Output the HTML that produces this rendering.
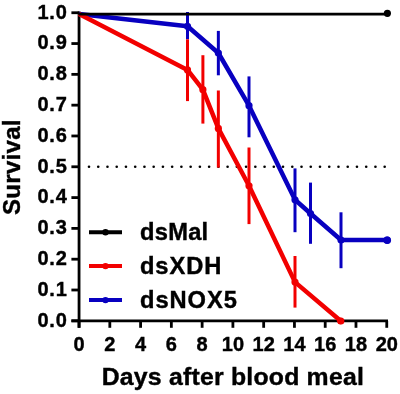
<!DOCTYPE html>
<html><head><meta charset="utf-8"><style>
html,body{margin:0;padding:0;background:#fff;}
svg{display:block}
text{font-family:"Liberation Sans",Arial,sans-serif;font-weight:bold;fill:#000;stroke:#000;stroke-width:0.4px}
.tl{font-size:20px}
.lg{font-size:23.7px}
.at{font-size:24.8px}
.at2{font-size:24px}
</style></head><body>
<svg width="400" height="394" viewBox="0 0 400 394">
<rect width="400" height="394" fill="#fff"/>
<line x1="79.05" y1="11.4" x2="79.05" y2="327.8" stroke="#000" stroke-width="2.8"/>
<line x1="71.4" y1="320.8" x2="388" y2="320.8" stroke="#000" stroke-width="2.8"/>
<line x1="71.4" y1="12.75" x2="79.05" y2="12.75" stroke="#000" stroke-width="2.8"/>
<text x="67.60" y="18.65" class="tl" text-anchor="end" letter-spacing="0.8">1.0</text>
<line x1="71.4" y1="43.55" x2="79.05" y2="43.55" stroke="#000" stroke-width="2.8"/>
<text x="67.60" y="49.45" class="tl" text-anchor="end" letter-spacing="0.8">0.9</text>
<line x1="71.4" y1="74.36" x2="79.05" y2="74.36" stroke="#000" stroke-width="2.8"/>
<text x="67.60" y="80.26" class="tl" text-anchor="end" letter-spacing="0.8">0.8</text>
<line x1="71.4" y1="105.16" x2="79.05" y2="105.16" stroke="#000" stroke-width="2.8"/>
<text x="67.60" y="111.06" class="tl" text-anchor="end" letter-spacing="0.8">0.7</text>
<line x1="71.4" y1="135.97" x2="79.05" y2="135.97" stroke="#000" stroke-width="2.8"/>
<text x="67.60" y="141.87" class="tl" text-anchor="end" letter-spacing="0.8">0.6</text>
<line x1="71.4" y1="166.78" x2="79.05" y2="166.78" stroke="#000" stroke-width="2.8"/>
<text x="67.60" y="172.68" class="tl" text-anchor="end" letter-spacing="0.8">0.5</text>
<line x1="71.4" y1="197.58" x2="79.05" y2="197.58" stroke="#000" stroke-width="2.8"/>
<text x="67.60" y="203.48" class="tl" text-anchor="end" letter-spacing="0.8">0.4</text>
<line x1="71.4" y1="228.38" x2="79.05" y2="228.38" stroke="#000" stroke-width="2.8"/>
<text x="67.60" y="234.28" class="tl" text-anchor="end" letter-spacing="0.8">0.3</text>
<line x1="71.4" y1="259.19" x2="79.05" y2="259.19" stroke="#000" stroke-width="2.8"/>
<text x="67.60" y="265.09" class="tl" text-anchor="end" letter-spacing="0.8">0.2</text>
<line x1="71.4" y1="290.00" x2="79.05" y2="290.00" stroke="#000" stroke-width="2.8"/>
<text x="67.60" y="295.89" class="tl" text-anchor="end" letter-spacing="0.8">0.1</text>
<line x1="71.4" y1="320.80" x2="79.05" y2="320.80" stroke="#000" stroke-width="2.8"/>
<text x="67.60" y="326.70" class="tl" text-anchor="end" letter-spacing="0.8">0.0</text>
<line x1="79.05" y1="320.8" x2="79.05" y2="327.8" stroke="#000" stroke-width="2.8"/>
<text x="79.05" y="351.4" class="tl" text-anchor="middle">0</text>
<line x1="109.82" y1="320.8" x2="109.82" y2="327.8" stroke="#000" stroke-width="2.8"/>
<text x="109.82" y="351.4" class="tl" text-anchor="middle">2</text>
<line x1="140.59" y1="320.8" x2="140.59" y2="327.8" stroke="#000" stroke-width="2.8"/>
<text x="140.59" y="351.4" class="tl" text-anchor="middle">4</text>
<line x1="171.36" y1="320.8" x2="171.36" y2="327.8" stroke="#000" stroke-width="2.8"/>
<text x="171.36" y="351.4" class="tl" text-anchor="middle">6</text>
<line x1="202.13" y1="320.8" x2="202.13" y2="327.8" stroke="#000" stroke-width="2.8"/>
<text x="202.13" y="351.4" class="tl" text-anchor="middle">8</text>
<line x1="232.90" y1="320.8" x2="232.90" y2="327.8" stroke="#000" stroke-width="2.8"/>
<text x="232.90" y="351.4" class="tl" text-anchor="middle">10</text>
<line x1="263.67" y1="320.8" x2="263.67" y2="327.8" stroke="#000" stroke-width="2.8"/>
<text x="263.67" y="351.4" class="tl" text-anchor="middle">12</text>
<line x1="294.44" y1="320.8" x2="294.44" y2="327.8" stroke="#000" stroke-width="2.8"/>
<text x="294.44" y="351.4" class="tl" text-anchor="middle">14</text>
<line x1="325.21" y1="320.8" x2="325.21" y2="327.8" stroke="#000" stroke-width="2.8"/>
<text x="325.21" y="351.4" class="tl" text-anchor="middle">16</text>
<line x1="355.98" y1="320.8" x2="355.98" y2="327.8" stroke="#000" stroke-width="2.8"/>
<text x="355.98" y="351.4" class="tl" text-anchor="middle">18</text>
<line x1="386.75" y1="320.8" x2="386.75" y2="327.8" stroke="#000" stroke-width="2.8"/>
<text x="386.75" y="351.4" class="tl" text-anchor="middle">20</text>
<g fill="#000"><circle cx="89.00" cy="166.75" r="1.3"/><circle cx="98.24" cy="166.75" r="1.3"/><circle cx="107.48" cy="166.75" r="1.3"/><circle cx="116.72" cy="166.75" r="1.3"/><circle cx="125.96" cy="166.75" r="1.3"/><circle cx="135.20" cy="166.75" r="1.3"/><circle cx="144.44" cy="166.75" r="1.3"/><circle cx="153.68" cy="166.75" r="1.3"/><circle cx="162.92" cy="166.75" r="1.3"/><circle cx="172.16" cy="166.75" r="1.3"/><circle cx="181.40" cy="166.75" r="1.3"/><circle cx="190.64" cy="166.75" r="1.3"/><circle cx="199.88" cy="166.75" r="1.3"/><circle cx="209.12" cy="166.75" r="1.3"/><circle cx="218.36" cy="166.75" r="1.3"/><circle cx="227.60" cy="166.75" r="1.3"/><circle cx="236.84" cy="166.75" r="1.3"/><circle cx="246.08" cy="166.75" r="1.3"/><circle cx="255.32" cy="166.75" r="1.3"/><circle cx="264.56" cy="166.75" r="1.3"/><circle cx="273.80" cy="166.75" r="1.3"/><circle cx="283.04" cy="166.75" r="1.3"/><circle cx="292.28" cy="166.75" r="1.3"/><circle cx="301.52" cy="166.75" r="1.3"/><circle cx="310.76" cy="166.75" r="1.3"/><circle cx="320.00" cy="166.75" r="1.3"/><circle cx="329.24" cy="166.75" r="1.3"/><circle cx="338.48" cy="166.75" r="1.3"/><circle cx="347.72" cy="166.75" r="1.3"/><circle cx="356.96" cy="166.75" r="1.3"/><circle cx="366.20" cy="166.75" r="1.3"/><circle cx="375.44" cy="166.75" r="1.3"/><circle cx="384.68" cy="166.75" r="1.3"/></g>
<line x1="187.5" y1="12" x2="187.5" y2="39.3" stroke="#0800c0" stroke-width="3" stroke-linecap="butt"/><line x1="218.35" y1="30.9" x2="218.35" y2="75.3" stroke="#0800c0" stroke-width="3" stroke-linecap="butt"/><line x1="249.0" y1="76.4" x2="249.0" y2="137.3" stroke="#0800c0" stroke-width="3" stroke-linecap="butt"/><line x1="295.0" y1="168.4" x2="295.0" y2="232.2" stroke="#0800c0" stroke-width="3" stroke-linecap="butt"/><line x1="310.5" y1="182.6" x2="310.5" y2="243.8" stroke="#0800c0" stroke-width="3" stroke-linecap="butt"/><line x1="341.0" y1="212.3" x2="341.0" y2="268.2" stroke="#0800c0" stroke-width="3" stroke-linecap="butt"/><polyline fill="none" stroke="#0800c0" stroke-width="4.5" stroke-linejoin="round" points="79.05,13.9 187.5,26.3 218.35,53 249.0,105.7 295.0,199.8 310.5,213.5 341.0,240.0 387.2,240.1"/><circle cx="187.5" cy="26.3" r="3.6" fill="#0800c0"/><circle cx="218.35" cy="53" r="3.6" fill="#0800c0"/><circle cx="249.0" cy="105.7" r="3.6" fill="#0800c0"/><circle cx="295.0" cy="199.8" r="3.6" fill="#0800c0"/><circle cx="310.5" cy="213.5" r="3.6" fill="#0800c0"/><circle cx="341.0" cy="240.0" r="3.6" fill="#0800c0"/><circle cx="387.2" cy="240.1" r="3.6" fill="#0800c0"/>
<circle cx="387.2" cy="240.2" r="3.8" fill="#0800c0"/>
<line x1="187.5" y1="39.3" x2="187.5" y2="101.1" stroke="#f20000" stroke-width="3" stroke-linecap="butt"/><line x1="202.9" y1="55.2" x2="202.9" y2="123.6" stroke="#f20000" stroke-width="3" stroke-linecap="butt"/><line x1="218.35" y1="90.5" x2="218.35" y2="167.6" stroke="#f20000" stroke-width="3" stroke-linecap="butt"/><line x1="249.0" y1="147.5" x2="249.0" y2="224.1" stroke="#f20000" stroke-width="3" stroke-linecap="butt"/><line x1="295.0" y1="256" x2="295.0" y2="307.6" stroke="#f20000" stroke-width="3" stroke-linecap="butt"/><polyline fill="none" stroke="#f20000" stroke-width="4.5" stroke-linejoin="round" points="79.05,13.9 187.5,69.9 202.9,89.7 218.35,128.4 249.0,185.8 295.0,282.1 340.8,321"/><circle cx="187.5" cy="69.9" r="3.6" fill="#f20000"/><circle cx="202.9" cy="89.7" r="3.6" fill="#f20000"/><circle cx="218.35" cy="128.4" r="3.6" fill="#f20000"/><circle cx="249.0" cy="185.8" r="3.6" fill="#f20000"/><circle cx="295.0" cy="282.1" r="3.6" fill="#f20000"/><circle cx="340.8" cy="321" r="3.6" fill="#f20000"/>
<circle cx="340.6" cy="321" r="3.2" fill="#f20000"/>
<line x1="79.05" y1="14.1" x2="387.4" y2="14.1" stroke="#000" stroke-width="2.6"/>
<circle cx="387.4" cy="13.3" r="3.6" fill="#000"/>
<line x1="89" y1="232.3" x2="122" y2="232.3" stroke="#000" stroke-width="4"/>
<circle cx="105.5" cy="232.3" r="3.2" fill="#000"/>
<text x="140" y="240" class="lg" letter-spacing="0.25">dsMal</text>
<line x1="89" y1="266.1" x2="122" y2="266.1" stroke="#f20000" stroke-width="4"/>
<circle cx="105.5" cy="266.1" r="3.2" fill="#f20000"/>
<text x="140" y="273.6" class="lg" letter-spacing="0.9">dsXDH</text>
<line x1="89" y1="300.1" x2="122" y2="300.1" stroke="#0800c0" stroke-width="4"/>
<circle cx="105.5" cy="300.1" r="3.2" fill="#0800c0"/>
<text x="140" y="307.5" class="lg" letter-spacing="0.95">dsNOX5</text>
<text x="232.86" y="385.4" class="at" text-anchor="middle" letter-spacing="0.22">Days after blood meal</text>
<text transform="translate(19.8 167.25) rotate(-90)" x="0.14" class="at2" text-anchor="middle" letter-spacing="0.28">Survival</text>
</svg>
</body></html>
